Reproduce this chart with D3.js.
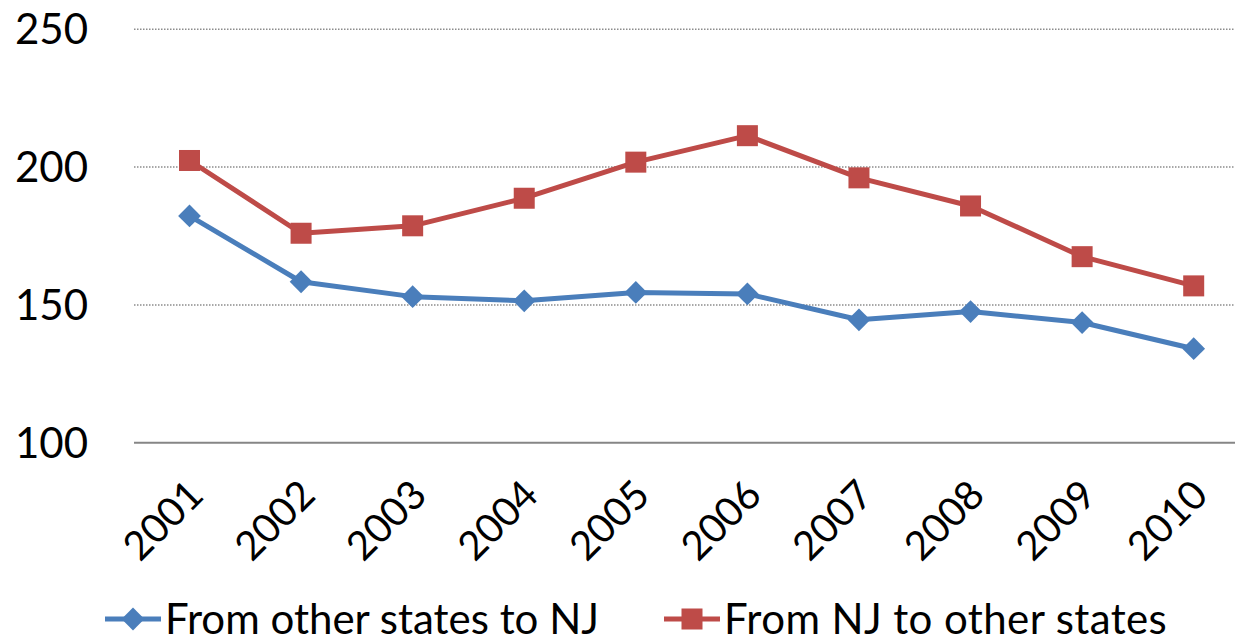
<!DOCTYPE html>
<html>
<head>
<meta charset="utf-8">
<script src="https://cdn.jsdelivr.net/npm/d3@7"></script>
<style>
  body { margin: 0; background: #fff; }
  svg { display: block; font-family: Lato, "Open Sans", sans-serif; }
</style>
</head>
<body>
<div id="container"></div>
<script>
// chart data
const years = ['2001', '2002', '2003', '2004', '2005', '2006', '2007', '2008', '2009', '2010'];
const intoNJ = [182.3, 158.4, 153, 151.5, 154.5, 154, 144.6, 147.6, 143.6, 134.1];
const outOfNJ = [202.4, 176, 178.7, 188.7, 201.8, 211.4, 196.1, 185.9, 167.5, 156.9];
const yTicks = [100, 150, 200, 250];
const seriesNames = ['From other states to NJ', 'From NJ to other states'];

const width = 1235, height = 642;
const blue = '#4a7ebb', red = '#be4b48';

const svg = d3.select('#container')
  .append('svg')
  .attr('width', width)
  .attr('height', height);

const x = d3.scalePoint()
  .domain(years)
  .range([189.5, 1193.7]);

const y = d3.scaleLinear()
  .domain([100, 250])
  .range([442.7, 29.3]);

// gridlines
svg.append('g')
  .selectAll('line')
  .data(yTicks.filter(d => d !== 100))
  .enter().append('line')
  .attr('x1', 134).attr('x2', width)
  .attr('y1', d => y(d)).attr('y2', d => y(d))
  .style('stroke', '#8c8c8c')
  .style('stroke-width', 1.5)
  .style('stroke-dasharray', '1.5,1.5');

svg.append('line')
  .attr('x1', 134).attr('x2', width)
  .attr('y1', y(100)).attr('y2', y(100))
  .style('stroke', '#868686')
  .style('stroke-width', 2);

// y labels
svg.append('g')
  .selectAll('text')
  .data(yTicks)
  .enter().append('text')
  .attr('x', 88)
  .attr('y', d => y(d))
  .attr('dy', '0.36em')
  .attr('text-anchor', 'end')
  .style('font-size', '42px')
  .text(d => d);

// x labels
svg.append('g')
  .selectAll('text')
  .data(years)
  .enter().append('text')
  .attr('transform', d => `translate(${x(d) - 5},${476}) rotate(-45)`)
  .attr('text-anchor', 'end')
  .attr('dy', '0.75em')
  .style('font-size', '40px')
  .text(d => d);

const line = d3.line()
  .x((d, i) => x(years[i]))
  .y(d => y(d));

const diamond = d3.symbol().type(d3.symbolDiamond2).size(330);

function drawSeries(values, color, marker) {
  svg.append('path')
    .datum(values)
    .attr('d', line)
    .style('fill', 'none')
    .style('stroke', color)
    .style('stroke-width', 5)
    .style('stroke-linejoin', 'round');

  const g = svg.append('g');
  values.forEach((v, i) => {
    if (marker === 'square') {
      g.append('rect')
        .attr('x', x(years[i]) - 10.5).attr('y', y(v) - 10.5)
        .attr('width', 21).attr('height', 21)
        .style('fill', color);
    } else {
      g.append('path')
        .attr('transform', `translate(${x(years[i])},${y(v)})`)
        .attr('d', diamond)
        .style('fill', color);
    }
  });
}

drawSeries(intoNJ, blue, 'diamond');
drawSeries(outOfNJ, red, 'square');

// legend
const legendY = 619;
const legend = [
  { name: seriesNames[0], color: blue, marker: 'diamond', x0: 105 },
  { name: seriesNames[1], color: red, marker: 'square', x0: 664 }
];
legend.forEach(l => {
  svg.append('line')
    .attr('x1', l.x0).attr('x2', l.x0 + 56)
    .attr('y1', legendY).attr('y2', legendY)
    .style('stroke', l.color).style('stroke-width', 5);
  if (l.marker === 'square') {
    svg.append('rect')
      .attr('x', l.x0 + 28 - 10.5).attr('y', legendY - 10.5)
      .attr('width', 21).attr('height', 21)
      .style('fill', l.color);
  } else {
    svg.append('path')
      .attr('transform', `translate(${l.x0 + 28},${legendY})`)
      .attr('d', diamond)
      .style('fill', l.color);
  }
  svg.append('text')
    .attr('x', l.x0 + 60)
    .attr('y', legendY)
    .attr('dy', '0.36em')
    .style('font-size', '42px')
    .style('letter-spacing', l.marker === 'square' ? '0.4px' : '0px')
    .text(l.name);
});
</script>
</body>
</html>
